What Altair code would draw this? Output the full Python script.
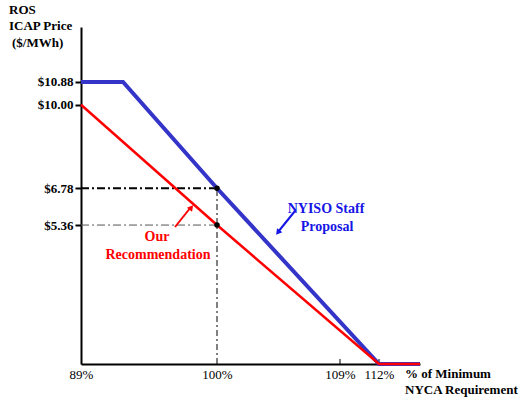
import altair as alt
import pandas as pd

# ---- data ----
x_domain = [89, 100, 109, 112, 115]          # % of minimum NYCA requirement
x_range_px = [0, 136, 259, 298, 339]          # schematic (non-uniform) spacing of the original axis
x_tick_values = [89, 100, 109, 112]
y_tick_values = [5.36, 6.78, 10.0, 10.88]

staff_x = [89, 92.4, 100, 112, 115]
staff_y = [10.88, 10.88, 6.78, 0, 0]
rec_x = [89, 100, 112, 115]
rec_y = [10.0, 5.36, 0, 0]

ref_x = 100
staff_at_ref = 6.78
rec_at_ref = 5.36
x_min = 89
small_ticks = [109, 112]

FONT = "Liberation Serif"
BLUE = "#3434c8"
RED = "#ff0000"

xs = alt.Scale(domain=x_domain, range=x_range_px, nice=False, zero=False)
ys = alt.Scale(domain=[0, 13], nice=False, zero=True)

x_axis = alt.Axis(values=x_tick_values, labelExpr="datum.value + '%'", ticks=False,
                  domainColor="black", domainWidth=2, labelFont=FONT, labelFontSize=13,
                  labelColor="black", labelPadding=4, grid=False, title=None,
                  labelFlush=False, labelOverlap=False)
y_axis = alt.Axis(values=y_tick_values, labelExpr="'$' + format(datum.value, '.2f')",
                  tickSize=6, tickWidth=2, tickColor="black", domainColor="black",
                  domainWidth=2, labelFont=FONT, labelFontWeight="bold", labelFontSize=13,
                  labelColor="black", labelPadding=2, grid=False, title=None,
                  labelOverlap=False)

staff_df = pd.DataFrame({"x": staff_x, "y": staff_y})
rec_df = pd.DataFrame({"x": rec_x, "y": rec_y})

h678 = alt.Chart(pd.DataFrame({"x": [x_min], "x2": [ref_x], "y": [staff_at_ref]})).mark_rule(
    color="black", strokeWidth=2, strokeDash=[8, 3, 2, 3]).encode(
    x=alt.X("x:Q", scale=xs, axis=x_axis), x2="x2:Q", y=alt.Y("y:Q", scale=ys, axis=y_axis))
h536 = alt.Chart(pd.DataFrame({"x": [x_min], "x2": [ref_x], "y": [rec_at_ref]})).mark_rule(
    color="#555555", strokeWidth=1, strokeDash=[8, 3, 2, 3]).encode(
    x=alt.X("x:Q", scale=xs), x2="x2:Q", y=alt.Y("y:Q", scale=ys))
v100 = alt.Chart(pd.DataFrame({"x": [ref_x], "y": [0], "y2": [staff_at_ref]})).mark_rule(
    color="black", strokeWidth=1, strokeDash=[6, 3, 2, 3]).encode(
    x=alt.X("x:Q", scale=xs), y=alt.Y("y:Q", scale=ys), y2="y2:Q")

ticks = alt.Chart(pd.DataFrame({"x": small_ticks})).mark_rule(color="black", strokeWidth=1).encode(
    x=alt.X("x:Q", scale=xs), y=alt.value(332), y2=alt.value(337))

staff_line = alt.Chart(staff_df).mark_line(color=BLUE, strokeWidth=4).encode(
    x=alt.X("x:Q", scale=xs), y=alt.Y("y:Q", scale=ys), order="x:Q")
rec_line = alt.Chart(rec_df).mark_line(color=RED, strokeWidth=2.5).encode(
    x=alt.X("x:Q", scale=xs), y=alt.Y("y:Q", scale=ys), order="x:Q")

dots = alt.Chart(pd.DataFrame({"x": [ref_x, ref_x], "y": [staff_at_ref, rec_at_ref]})).mark_point(
    filled=True, color="black", size=30, opacity=1).encode(
    x=alt.X("x:Q", scale=xs), y=alt.Y("y:Q", scale=ys))

one = pd.DataFrame({"k": [0]})

def arrow(x1, y1, x2, y2, bx, by, ang, color):
    shaft = alt.Chart(one).mark_rule(color=color, strokeWidth=2).encode(
        x=alt.value(x1), y=alt.value(y1), x2=alt.value(x2), y2=alt.value(y2))
    head = alt.Chart(one).mark_point(shape="triangle-up", filled=True, color=color,
                                     size=45, angle=ang, opacity=1).encode(
        x=alt.value(bx), y=alt.value(by))
    return [shaft, head]

def label(text, px, py, color, size, align="center"):
    return alt.Chart(pd.DataFrame({"t": [text]})).mark_text(
        font=FONT, fontSize=size, fontWeight="bold", color=color, align=align,
        baseline="middle").encode(text="t:N", x=alt.value(px), y=alt.value(py))

annot_text = ["NYISO Staff", "Proposal", "Our", "Recommendation"]
annot_pos = [(245, 182), (246, 200), (76, 210), (77, 228)]
annot_col = ["#1515e6", "#1515e6", RED, RED]

y_title = ["ROS", "ICAP Price", "($/MWh)"]
y_title_pos = [(-72, -17), (-72, -1), (-69, 16)]
x_title = ["% of Minimum", "NYCA Requirement"]
x_title_pos = [(324, 347), (324, 363)]

layers = [h678, h536, v100, ticks, staff_line, rec_line, dots]
layers += arrow(94, 200, 110, 180, 110.3, 180.5, 39, RED)
layers += arrow(214, 184, 197, 205, 196.9, 205.5, 218, "#1515e6")
for t, (px, py), c in zip(annot_text, annot_pos, annot_col):
    layers.append(label(t, px, py, c, 14))
for t, (px, py) in zip(y_title, y_title_pos):
    layers.append(label(t, px, py, "black", 13, "left"))
for t, (px, py) in zip(x_title, x_title_pos):
    layers.append(label(t, px, py, "black", 13, "left"))

chart = alt.layer(*layers).properties(
    width=339, height=337,
    autosize=alt.AutoSizeParams(type="none"),
    padding={"left": 81, "top": 27, "right": 108, "bottom": 36},
    background="white",
).configure_view(stroke=None)

chart.save("out.html", embed_options={"renderer": "svg", "actions": False})
